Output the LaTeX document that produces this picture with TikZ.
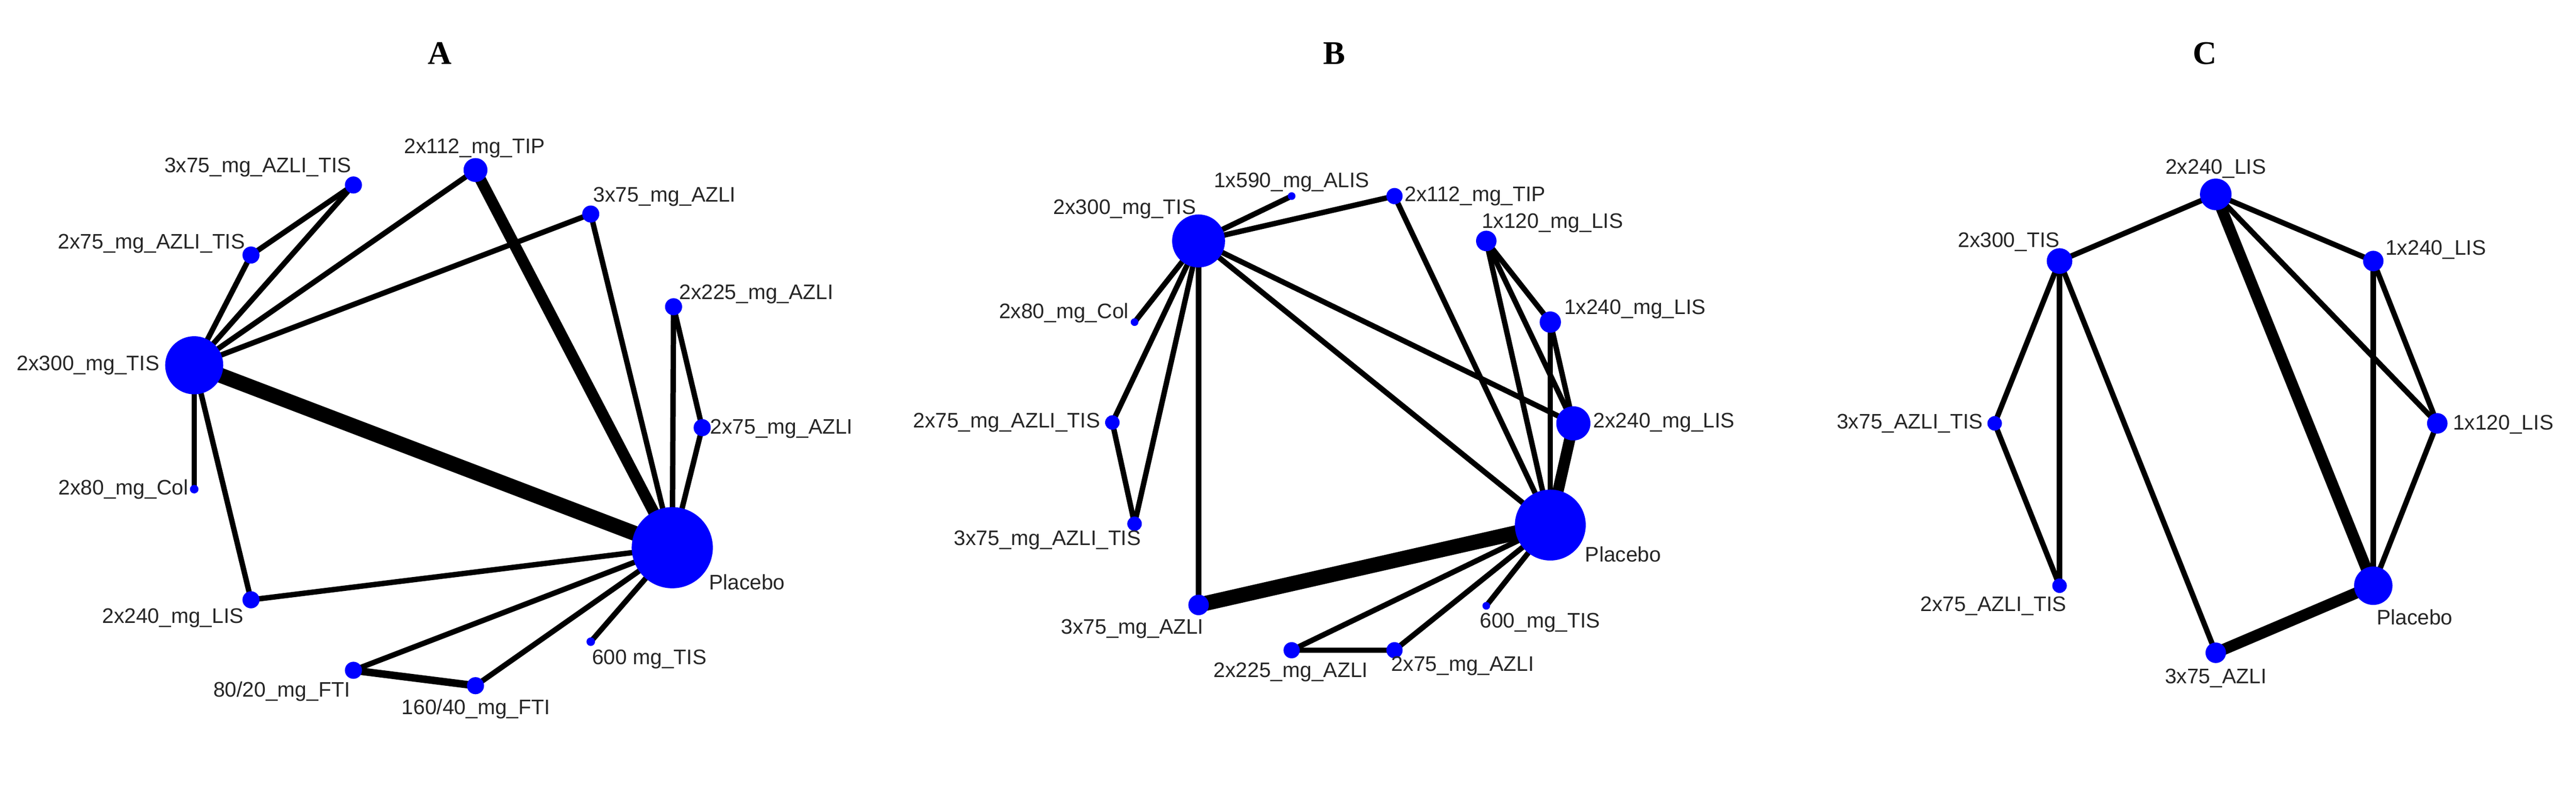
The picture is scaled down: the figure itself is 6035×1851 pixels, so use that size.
\documentclass[tikz,border=0pt]{standalone}
\usepackage{fontspec}
\setmainfont{Liberation Sans}
\newfontfamily\ttlfont{Liberation Serif}
\pgfdeclarelayer{bg}
\pgfsetlayers{bg,main}
\definecolor{nb}{RGB}{0,0,255}
\begin{document}
\begin{tikzpicture}[x=0.01cm,y=-0.01cm,
  v/.style={circle,fill=nb,inner sep=0pt,draw=none,minimum size=#1*0.01cm},
  lb/.style={font=\fontsize{14}{16}\selectfont,text=black!85,inner sep=0pt},
  ttl/.style={font=\ttlfont\bfseries\fontsize{22}{24}\selectfont},
  e/.style={line width=3.6pt,black},
  e2/.style={line width=5pt,black},
  e3/.style={line width=7.5pt,black},
  e4/.style={line width=10pt,black}]
\begin{pgfonlayer}{bg}
\fill[white] (0,0) rectangle (6035,1851);
\end{pgfonlayer}
\useasboundingbox (0,0) rectangle (6035,1851);
% ---------- A ----------
\node[ttl] (tA) at (1030,125) {A};
\node[v=136] (aT300) at (455,855) {};
\node[v=190] (aPla) at (1575,1282) {};
\node[v=56] (aTIP) at (1114,398) {};
\node[v=40] (aAT3) at (828,433) {};
\node[v=40] (aAT2) at (588,597) {};
\node[v=40] (aAZ3) at (1384,501) {};
\node[v=40] (aAZ225) at (1578,718) {};
\node[v=40] (aAZ2) at (1645,1001) {};
\node[v=20] (aCol) at (455,1145) {};
\node[v=40] (aLIS) at (588,1404) {};
\node[v=40] (aF80) at (828,1569) {};
\node[v=40] (aF160) at (1114,1605) {};
\node[v=20] (a600) at (1384,1502) {};
\node[lb,anchor=east] (laT300) at (374,855) {2x300\_mg\_TIS};
\node[lb] (laAT3) at (604,392) {3x75\_mg\_AZLI\_TIS};
\node[lb] (laAT2) at (355,570) {2x75\_mg\_AZLI\_TIS};
\node[lb] (laTIP) at (1112,347) {2x112\_mg\_TIP};
\node[lb] (laAZ3) at (1557,461) {3x75\_mg\_AZLI};
\node[lb] (laAZ225) at (1772,688) {2x225\_mg\_AZLI};
\node[lb] (laAZ2) at (1831,1003) {2x75\_mg\_AZLI};
\node[lb] (laCol) at (289,1145) {2x80\_mg\_Col};
\node[lb] (laPla) at (1750,1362) {Placebo};
\node[lb] (laLIS) at (405,1446) {2x240\_mg\_LIS};
\node[lb] (laF80) at (660,1618) {80/20\_mg\_FTI};
\node[lb] (laF160) at (1115,1659) {160/40\_mg\_FTI};
\node[lb] (la600) at (1521,1543) {600 mg\_TIS};
\begin{pgfonlayer}{bg}
\draw[e4] (aT300.center) -- (aPla.center);
\draw[e3] (aTIP.center) -- (aPla.center);
\draw[e] (aT300.center) -- (aAT2.center);
\draw[e] (aT300.center) -- (aAT3.center);
\draw[e] (aAT2.center) -- (aAT3.center);
\draw[e] (aT300.center) -- (aTIP.center);
\draw[e] (aT300.center) -- (aAZ3.center);
\draw[e] (aT300.center) -- (aCol.center);
\draw[e] (aT300.center) -- (aLIS.center);
\draw[e] (aLIS.center) -- (aPla.center);
\draw[e] (aAZ3.center) -- (aPla.center);
\draw[e] (aAZ225.center) -- (aPla.center);
\draw[e] (aAZ225.center) -- (aAZ2.center);
\draw[e] (aAZ2.center) -- (aPla.center);
\draw[e] (aF80.center) -- (aPla.center);
\draw[e] (aF160.center) -- (aPla.center);
\draw[e2] (aF80.center) -- (aF160.center);
\draw[e] (a600.center) -- (aPla.center);
\end{pgfonlayer}
% ---------- B ----------
\node[ttl] (tB) at (3126,125) {B};
\node[v=124] (bT300) at (2808,564) {};
\node[v=166] (bPla) at (3632,1229) {};
\node[v=18] (bALIS) at (3026,459) {};
\node[v=38] (bTIP) at (3267,459) {};
\node[v=48] (bL120) at (3482,564) {};
\node[v=50] (bL1240) at (3632,754) {};
\node[v=80] (bL2240) at (3686,991) {};
\node[v=18] (bCol) at (2658,754) {};
\node[v=34] (bAT2) at (2606,989) {};
\node[v=34] (bAT3) at (2658,1226) {};
\node[v=48] (bAZ3) at (2808,1416) {};
\node[v=38] (bAZ225) at (3026,1522) {};
\node[v=38] (bAZ2) at (3267,1522) {};
\node[v=18] (b600) at (3482,1418) {};
\node[lb] (lbT300) at (2635,489) {2x300\_mg\_TIS};
\node[lb] (lbALIS) at (3026,427) {1x590\_mg\_ALIS};
\node[lb,anchor=west] (lbTIP) at (3290,459) {2x112\_mg\_TIP};
\node[lb] (lbL120) at (3637,522) {1x120\_mg\_LIS};
\node[lb,anchor=west] (lbL1240) at (3664,724) {1x240\_mg\_LIS};
\node[lb,anchor=west] (lbL2240) at (3732,989) {2x240\_mg\_LIS};
\node[lb,anchor=west] (lbPla) at (3713,1297) {Placebo};
\node[lb,anchor=east] (lbCol) at (2645,732) {2x80\_mg\_Col};
\node[lb,anchor=east] (lbAT2) at (2578,989) {2x75\_mg\_AZLI\_TIS};
\node[lb] (lbAT3) at (2454,1264) {3x75\_mg\_AZLI\_TIS};
\node[lb] (lbAZ3) at (2653,1472) {3x75\_mg\_AZLI};
\node[lb] (lbAZ225) at (3024,1573) {2x225\_mg\_AZLI};
\node[lb] (lbAZ2) at (3427,1559) {2x75\_mg\_AZLI};
\node[lb] (lb600) at (3608,1458) {600\_mg\_TIS};
\begin{pgfonlayer}{bg}
\draw[e] (bT300.center) -- (bALIS.center);
\draw[e] (bT300.center) -- (bTIP.center);
\draw[e] (bT300.center) -- (bCol.center);
\draw[e] (bT300.center) -- (bAT2.center);
\draw[e] (bT300.center) -- (bAT3.center);
\draw[e] (bT300.center) -- (bAZ3.center);
\draw[e] (bT300.center) -- (bPla.center);
\draw[e] (bT300.center) -- (bL2240.center);
\draw[e] (bTIP.center) -- (bPla.center);
\draw[e] (bL120.center) -- (bL1240.center);
\draw[e] (bL120.center) -- (bL2240.center);
\draw[e] (bL120.center) -- (bPla.center);
\draw[e] (bL1240.center) -- (bL2240.center);
\draw[e] (bL1240.center) -- (bPla.center);
\draw[e3] (bL2240.center) -- (bPla.center);
\draw[e] (bAT2.center) -- (bAT3.center);
\draw[e4] (bAZ3.center) -- (bPla.center);
\draw[e] (bAZ225.center) -- (bPla.center);
\draw[e] (bAZ2.center) -- (bPla.center);
\draw[e] (bAZ225.center) -- (bAZ2.center);
\draw[e] (b600.center) -- (bPla.center);
\end{pgfonlayer}
% ---------- C ----------
\node[ttl] (tC) at (5166,125) {C};
\node[v=74] (cL2240) at (5191,455) {};
\node[v=60] (cT300) at (4825,611) {};
\node[v=48] (cL1240) at (5560,611) {};
\node[v=48] (cL120) at (5710,991) {};
\node[v=34] (cAT3) at (4673,991) {};
\node[v=34] (cAT2) at (4825,1371) {};
\node[v=48] (cAZ3) at (5191,1528) {};
\node[v=90] (cPla) at (5560,1371) {};
\node[lb] (lcL2240) at (5191,395) {2x240\_LIS};
\node[lb] (lcT300) at (4706,566) {2x300\_TIS};
\node[lb,anchor=west] (lcL1240) at (5588,585) {1x240\_LIS};
\node[lb,anchor=west] (lcL120) at (5746,994) {1x120\_LIS};
\node[lb,anchor=east] (lcAT3) at (4646,991) {3x75\_AZLI\_TIS};
\node[lb] (lcAT2) at (4670,1418) {2x75\_AZLI\_TIS};
\node[lb] (lcAZ3) at (5191,1587) {3x75\_AZLI};
\node[lb] (lcPla) at (5657,1445) {Placebo};
\begin{pgfonlayer}{bg}
\draw[e] (cL2240.center) -- (cT300.center);
\draw[e] (cL2240.center) -- (cL1240.center);
\draw[e] (cL2240.center) -- (cL120.center);
\draw[e3] (cL2240.center) -- (cPla.center);
\draw[e] (cL1240.center) -- (cPla.center);
\draw[e] (cL1240.center) -- (cL120.center);
\draw[e] (cL120.center) -- (cPla.center);
\draw[e] (cT300.center) -- (cAT3.center);
\draw[e] (cT300.center) -- (cAT2.center);
\draw[e] (cT300.center) -- (cAZ3.center);
\draw[e] (cAT3.center) -- (cAT2.center);
\draw[e3] (cAZ3.center) -- (cPla.center);
\end{pgfonlayer}
\end{tikzpicture}
\end{document}
